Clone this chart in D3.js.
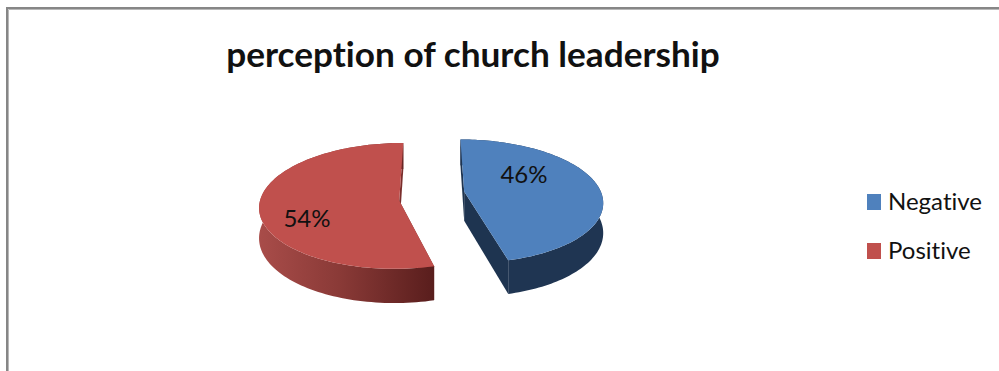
<!DOCTYPE html>
<html>
<head>
<meta charset="utf-8">
<script src="https://cdn.jsdelivr.net/npm/d3@7"></script>
<style>
  html, body { margin: 0; padding: 0; background: #fff; }
  svg { display: block; }
  text { font-family: Lato, "Open Sans", sans-serif; fill: #111; font-variant-ligatures: none; }
</style>
</head>
<body>
<script>
const categories = ["Negative", "Positive"];
const shares = [46, 54];
const chartTitle = "perception of church leadership";

const topColors = ["#4f81bd", "#c0504d"];
const cutColors = ["#1e3450", "#7a2e2c"];

const W = 999, H = 371;
const svg = d3.select("body").append("svg").attr("width", W).attr("height", H);

// Frame: only the top and left edges fall inside the page.
svg.append("path").attr("d", `M8.5,${H} V9.5 H${W}`)
  .attr("fill", "none").attr("stroke", "#b8b8b8").attr("stroke-width", 1);
svg.append("path").attr("d", `M7,${H} V8 H${W}`)
  .attr("fill", "none").attr("stroke", "#868686").attr("stroke-width", 2);

svg.append("text").attr("x", 473).attr("y", 67)
  .attr("text-anchor", "middle").attr("font-size", 35.2).attr("font-weight", 700)
  .text(chartTitle);

// Perspective projection of the pie plane onto the page.
const cx = 432, cy = 196;     // centre of the un-exploded pie
const R = 138;                // radius in plane units
const tilt = 0.445;           // vertical squash of the plane
const persp = 0.135 / R;      // foreshortening per plane unit
const depth = 29.5;           // wall height
const explode = 34;           // slice pull-out distance
const explodeSkew = -10 * Math.PI / 180; // direction bias of the pull-out
const rimShift = [3, -7];     // rim offset from each slice's apex, along the view axis

function project(X, Y, z = 0) {
  const s = 1 / (1 - persp * Y);
  return [cx + X * s, cy + tilt * Y * s + z * s];
}

const pie = d3.pie().sort(null).value(d => d);
const slices = pie(shares).map((a, i) => {
  const mid = (a.startAngle + a.endAngle) / 2 + explodeSkew;
  const ox = explode * Math.sin(mid), oy = -explode * Math.cos(mid);
  const pt = (t, z) => project(ox + R * Math.sin(t), oy + rimShift[i] - R * Math.cos(t), z);
  const apex = z => project(ox, oy, z);
  const arc = z => d3.range(0, 121).map(k =>
    pt(a.startAngle + (a.endAngle - a.startAngle) * k / 120, z));
  return { i, a, pt, apex, arc };
});

const line = d3.line();
const defs = svg.append("defs");

// The red outer wall darkens steadily towards the cut at the right.
const wallGrad = defs.append("linearGradient").attr("id", "wall-positive")
  .attr("gradientUnits", "userSpaceOnUse")
  .attr("x1", 260).attr("x2", 436).attr("y1", 0).attr("y2", 0);
wallGrad.append("stop").attr("offset", 0).attr("stop-color", "#a84c49");
wallGrad.append("stop").attr("offset", 0.45).attr("stop-color", "#8a3a37");
wallGrad.append("stop").attr("offset", 1).attr("stop-color", "#581d1c");

const g = svg.append("g");
slices.forEach(s => {
  const top = s.arc(0), bottom = s.arc(depth);
  const A0 = s.apex(0), A1 = s.apex(depth);
  const n = top.length - 1;

  // Cut faces
  g.append("path").attr("fill", cutColors[s.i])
    .attr("d", line([top[0], A0, A1, bottom[0]]) + "Z");
  g.append("path").attr("fill", cutColors[s.i])
    .attr("d", line([top[n], A0, A1, bottom[n]]) + "Z");

  // Outer wall
  g.append("path")
    .attr("fill", s.i === 1 ? "url(#wall-positive)" : "#1f3552")
    .attr("d", line(top.concat(bottom.slice().reverse())) + "Z");

  // Top face
  g.append("path").attr("fill", topColors[s.i])
    .attr("d", line([A0].concat(top)) + "Z");
});

// Percentage labels
const labelPos = [[524, 173], [307, 217]];
shares.forEach((v, i) => {
  svg.append("text").attr("x", labelPos[i][0]).attr("y", labelPos[i][1])
    .attr("text-anchor", "middle").attr("dominant-baseline", "central")
    .attr("font-size", 24).text(v + "%");
});

// Legend
const legendY = d3.scalePoint().domain(categories).range([202, 251]);
categories.forEach((c, i) => {
  const y = legendY(c);
  svg.append("rect").attr("x", 867).attr("y", y - 8).attr("width", 14).attr("height", 16)
    .attr("fill", topColors[i]);
  svg.append("text").attr("x", 888).attr("y", y - 2).attr("dominant-baseline", "central")
    .attr("font-size", 24).text(c);
});
</script>
</body>
</html>
